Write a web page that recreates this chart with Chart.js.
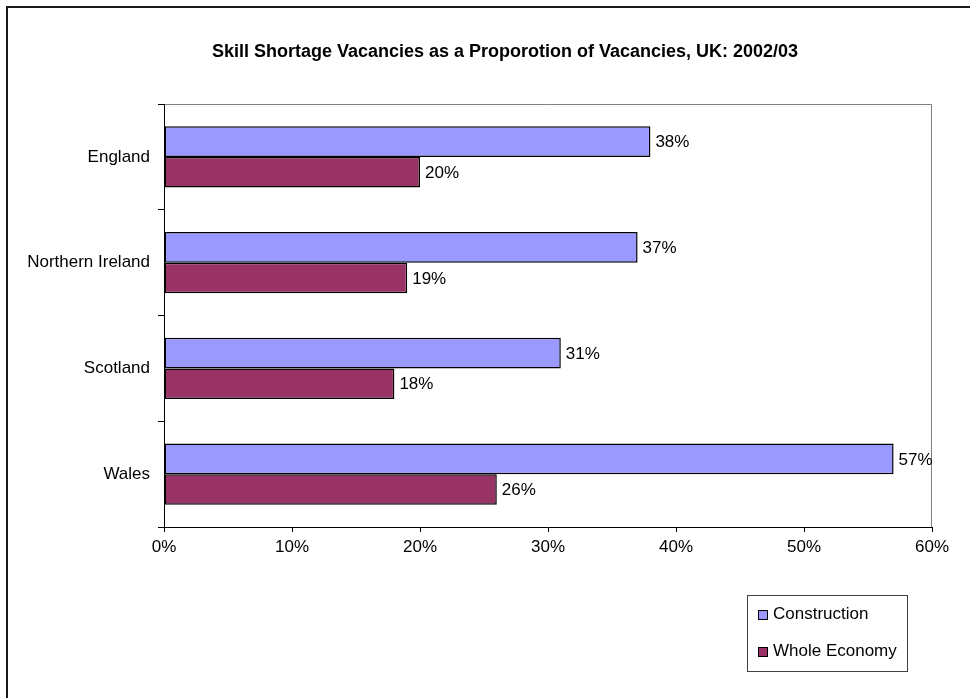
<!DOCTYPE html>
<html>
<head>
<meta charset="utf-8">
<script src="https://cdn.jsdelivr.net/npm/chart.js@4.4.0/dist/chart.umd.min.js"></script>
<style>
  html, body { margin: 0; padding: 0; background: #fff; }
  #wrap { width: 970px; height: 698px; }
</style>
</head>
<body>
<div id="wrap"><canvas id="skillChart" width="970" height="698"></canvas></div>
<script>
const TITLE = 'Skill Shortage Vacancies as a Proporotion of Vacancies, UK: 2002/03';
const regions = ['England', 'Northern Ireland', 'Scotland', 'Wales'];
const construction = [38, 37, 31, 57];
const wholeEconomy = [20, 19, 18, 26];
const xTicks = [0, 10, 20, 30, 40, 50, 60];

const FONT = '"Liberation Sans", Arial, sans-serif';

// frame, plot border, title, value labels and the boxed legend
const extras = {
  id: 'extras',
  beforeDraw(chart) {
    const ctx = chart.ctx;
    const a = chart.chartArea;
    ctx.save();
    ctx.fillStyle = '#fff';
    ctx.fillRect(0, 0, chart.width, chart.height);
    ctx.strokeStyle = '#1a1a1a';
    ctx.lineWidth = 2;
    ctx.beginPath();
    ctx.moveTo(7, chart.height + 2);
    ctx.lineTo(7, 7);
    ctx.lineTo(chart.width + 2, 7);
    ctx.stroke();
    // grey plot border top and right
    ctx.strokeStyle = '#808080';
    ctx.lineWidth = 1;
    ctx.beginPath();
    ctx.moveTo(a.left, a.top + 0.5);
    ctx.lineTo(a.right - 0.5, a.top + 0.5);
    ctx.lineTo(a.right - 0.5, a.bottom);
    ctx.stroke();
    ctx.restore();
  },
  afterDatasetsDraw(chart) {
    const ctx = chart.ctx;
    ctx.save();
    ctx.font = 'bold 18px ' + FONT;
    ctx.fillStyle = '#000';
    ctx.textAlign = 'center';
    ctx.textBaseline = 'middle';
    ctx.fillText(TITLE, 505, 52);

    ctx.font = '17px ' + FONT;
    ctx.textAlign = 'left';
    chart.data.datasets.forEach((ds, i) => {
      chart.getDatasetMeta(i).data.forEach((bar, j) => {
        ctx.fillText(ds.data[j] + '%', bar.x + 5, bar.y + 1);
      });
    });

    // legend
    const lx = 747, ly = 595, lw = 160, lh = 76;
    ctx.strokeStyle = '#404040';
    ctx.lineWidth = 1;
    ctx.strokeRect(lx + 0.5, ly + 0.5, lw, lh);
    chart.data.datasets.forEach((ds, i) => {
      const cy = ly + 19 + i * 37;
      ctx.fillStyle = ds.backgroundColor;
      ctx.fillRect(lx + 11, cy - 4, 10, 10);
      ctx.strokeStyle = '#000';
      ctx.strokeRect(lx + 11.5, cy - 3.5, 9, 9);
      ctx.fillStyle = '#000';
      ctx.fillText(ds.label, lx + 26, cy);
    });
    ctx.restore();
  }
};

new Chart(document.getElementById('skillChart'), {
  type: 'bar',
  data: {
    labels: regions,
    datasets: [
      {
        label: 'Construction',
        data: construction,
        backgroundColor: '#9999FF',
        borderColor: '#000',
        borderWidth: 1.5,
        borderSkipped: false,
        barPercentage: 1,
        categoryPercentage: 0.577
      },
      {
        label: 'Whole Economy',
        data: wholeEconomy,
        backgroundColor: '#993366',
        borderColor: '#000',
        borderWidth: 1.5,
        borderSkipped: false,
        barPercentage: 1,
        categoryPercentage: 0.577
      }
    ]
  },
  options: {
    indexAxis: 'y',
    responsive: false,
    animation: false,
    layout: { padding: { left: 0, right: 38, top: 104, bottom: 131 } },
    plugins: {
      legend: { display: false },
      title: { display: false },
      tooltip: { enabled: false }
    },
    scales: {
      x: {
        min: 0,
        max: 60,
        afterFit: s => { s.height = 40; },
        afterBuildTicks: s => { s.ticks = xTicks.map(v => ({ value: v })); },
        border: { color: '#000', width: 1 },
        grid: { drawOnChartArea: false, tickLength: 5, color: '#000' },
        ticks: {
          color: '#000',
          padding: 5,
          font: { family: FONT, size: 17 },
          callback: v => v + '%'
        }
      },
      y: {
        afterFit: s => { s.width = 164; },
        border: { color: '#000', width: 1 },
        grid: { drawOnChartArea: false, tickLength: 6, color: '#000', offset: true },
        ticks: {
          color: '#000',
          padding: 8,
          font: { family: FONT, size: 17 }
        }
      }
    }
  },
  plugins: [extras]
});
</script>
</body>
</html>
